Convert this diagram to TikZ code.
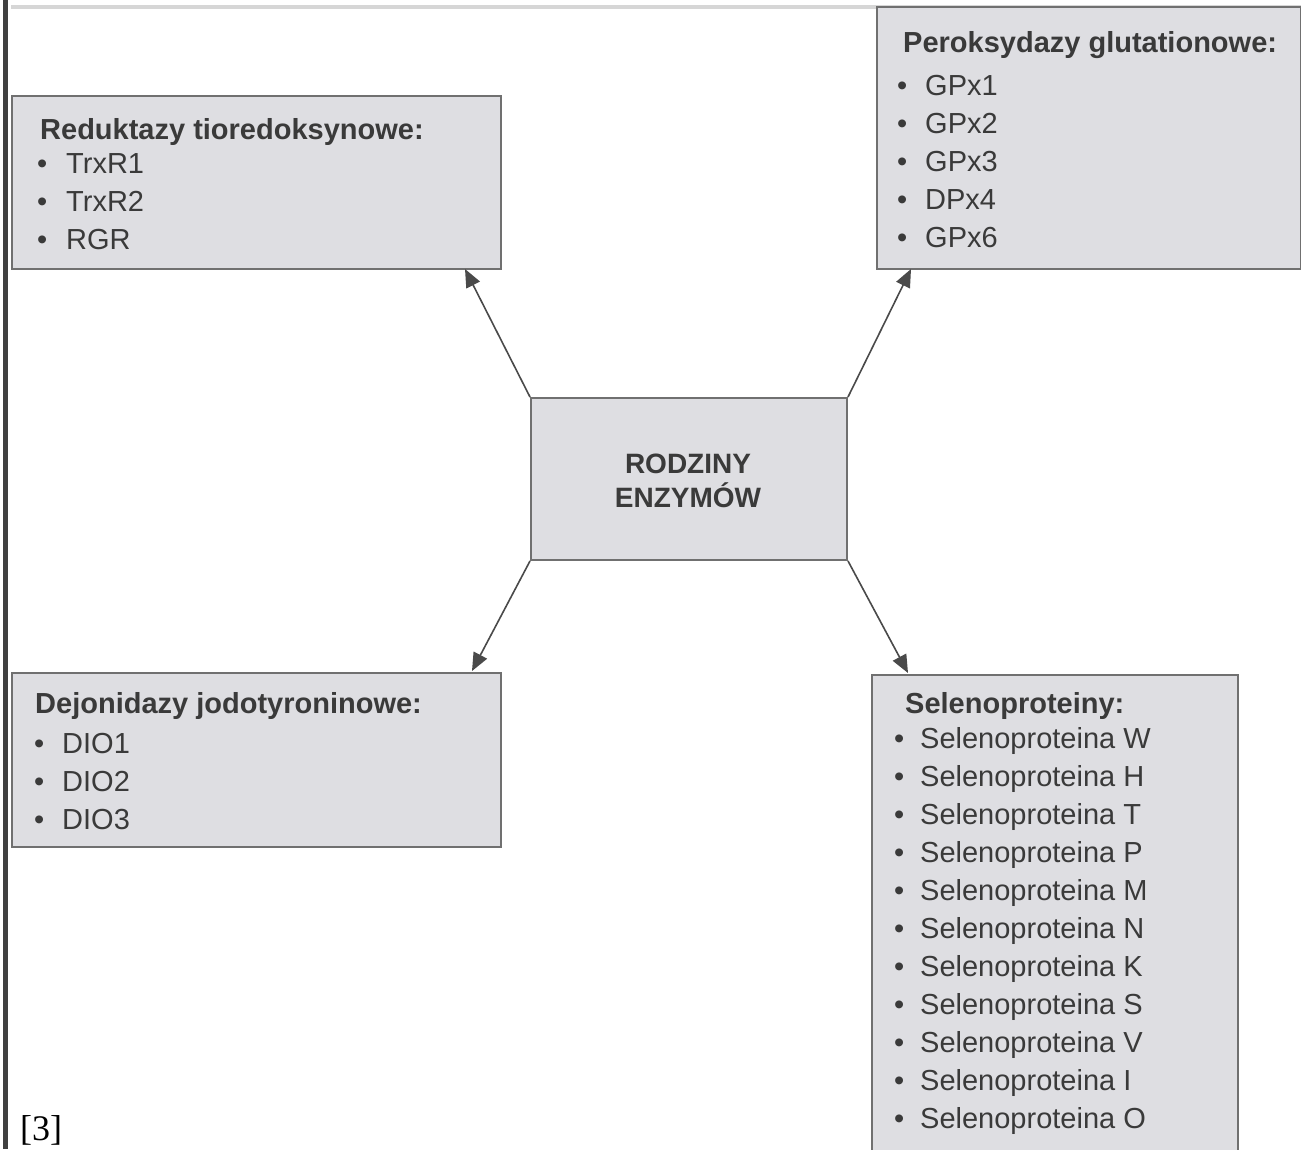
\documentclass[tikz,border=0pt]{standalone}
\usepackage{fontspec}
\setmainfont{Liberation Sans}
\newfontfamily\refserif{Liberation Serif}
\usetikzlibrary{arrows.meta,calc}
\definecolor{boxfill}{HTML}{DEDEE2}
\definecolor{boxline}{HTML}{707070}
\definecolor{txt}{HTML}{3A3A3A}
\definecolor{arrowc}{HTML}{4A4A4A}
\definecolor{barc}{HTML}{404040}
\definecolor{topline}{HTML}{D6D6D6}
\begin{document}
\begin{tikzpicture}[x=1pt,y=-1pt,
  box/.style={draw=boxline, line width=2pt, fill=boxfill, inner sep=0pt, anchor=north west},
  ttl/.style={anchor=base west, inner sep=0pt, text=txt, font=\fontsize{29}{31}\selectfont\bfseries},
  itm/.style={anchor=base west, inner sep=0pt, text=txt, font=\fontsize{29}{31}\selectfont},
  ctr/.style={anchor=base, inner sep=0pt, text=txt, font=\fontsize{28}{30}\selectfont\bfseries},
  conn/.style={draw=arrowc, line width=1.6pt, -{Triangle[length=18pt,width=15pt]}}
]
\useasboundingbox (0,0) rectangle (1301,1149);
\fill[white] (0,0) rectangle (1301,1149);
% page edges
\fill[barc] (3,0) rectangle (8,1149);
\fill[topline] (11,5) rectangle (1301,9);

% boxes
\node[box, minimum width=489pt, minimum height=173pt] (tl) at (11,95) {};
\node[box, minimum width=424pt, minimum height=262pt] (tr) at (876,6) {};
\node[box, minimum width=316pt, minimum height=162pt] (c) at (530,397) {};
\node[box, minimum width=489pt, minimum height=174pt] (bl) at (11,672) {};
\node[box, minimum width=366pt, minimum height=490pt] (br) at (871,674) {};

% center text
\node[ctr] (c1) at (688,473) {RODZINY};
\node[ctr] (c2) at (688,507) {ENZYMÓW};

% top-left
\node[ttl] (tlt) at (40,139) {Reduktazy tioredoksynowe:};
\foreach \t [count=\i] in {TrxR1,TrxR2,RGR}{
  \node[itm] (tlb\i) at (37,135+38*\i) {•};
  \node[itm] (tli\i) at (66,135+38*\i) {\t};
}

% top-right
\node[ttl] (trt) at (903,52) {Peroksydazy glutationowe:};
\foreach \t [count=\i] in {GPx1,GPx2,GPx3,DPx4,GPx6}{
  \node[itm] (trb\i) at (897,57+38*\i) {•};
  \node[itm] (tri\i) at (925,57+38*\i) {\t};
}

% bottom-left
\node[ttl] (blt) at (35,713) {Dejonidazy jodotyroninowe:};
\foreach \t [count=\i] in {DIO1,DIO2,DIO3}{
  \node[itm] (blb\i) at (34,715+38*\i) {•};
  \node[itm] (bli\i) at (62,715+38*\i) {\t};
}

% bottom-right
\node[ttl] (brt) at (905,713) {Selenoproteiny:};
\foreach \t [count=\i] in {W,H,T,P,M,N,K,S,V,I,O}{
  \node[itm] (brb\i) at (894,710+38*\i) {•};
  \node[itm] (bri\i) at (920,710+38*\i) {Selenoproteina \t};
}

% arrow ends
\coordinate (etl) at (465,269);
\coordinate (etr) at (911,269);
\coordinate (ebl) at (472,671);
\coordinate (ebr) at (908,673);
\draw[conn] (c.north west) -- (etl);
\draw[conn] (c.north east) -- (etr);
\draw[conn] (c.south west) -- (ebl);
\draw[conn] (c.south east) -- (ebr);

% reference mark
\node[anchor=base west, inner sep=0pt, font=\refserif\fontsize{36}{38}\selectfont] (ref) at (20,1140) {[3]};
\end{tikzpicture}
\end{document}
